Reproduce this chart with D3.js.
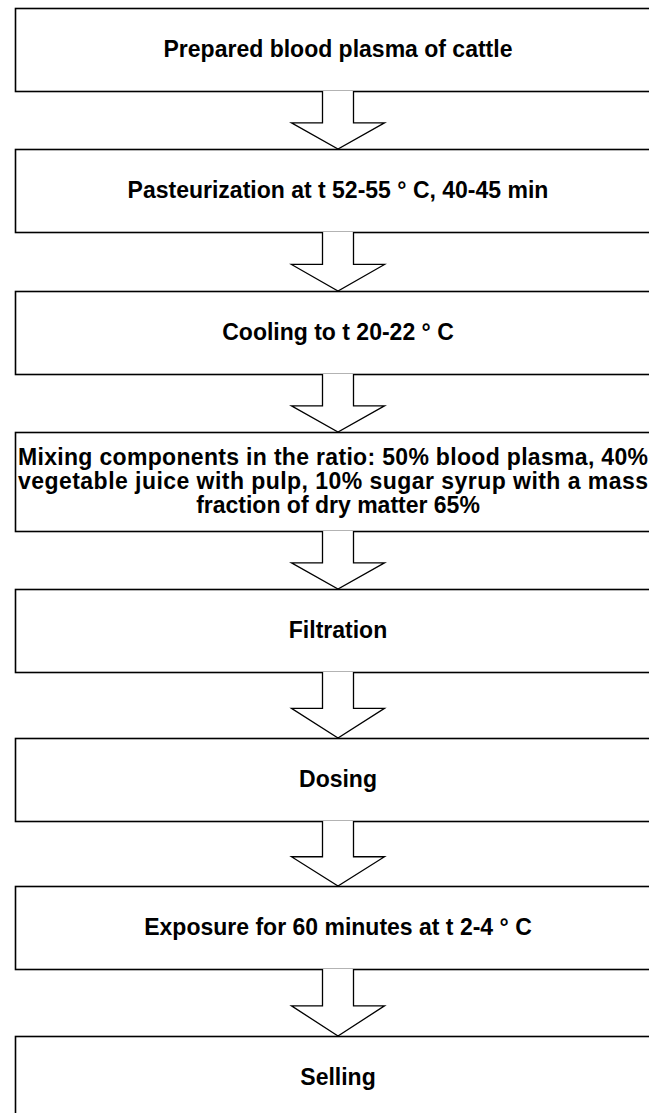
<!DOCTYPE html>
<html>
<head>
<meta charset="utf-8">
<script src="https://cdn.jsdelivr.net/npm/d3@7"></script>
<style>
  html, body { margin: 0; padding: 0; background: #fff; overflow: hidden; }
  .step-text { font-family: "Liberation Sans", Arial, sans-serif; font-weight: bold; fill: #000; }
</style>
</head>
<body>
<div id="container"></div>
<script>
// process steps (one entry per box, lines of text inside the box)
const steps = [
  ["Prepared blood plasma of cattle"],
  ["Pasteurization at t 52-55 ° C, 40-45 min"],
  ["Cooling to t 20-22 ° C"],
  ["Mixing components in the ratio: 50% blood plasma, 40%",
   "vegetable juice with pulp, 10% sugar syrup with a mass",
   "fraction of dry matter 65%"],
  ["Filtration"],
  ["Dosing"],
  ["Exposure for 60 minutes at t 2-4 ° C"],
  ["Selling"]
];

// layout
const W = 649, H = 1113;
const boxLeft = 15, boxRight = 661;   // the figure is cropped on the right
const lineH = 24;
const baseBox = 83;
const gaps = [58, 59, 58, 58, 66, 65, 67];
const fontSize = 23;

const svg = d3.select("#container").append("svg")
  .attr("width", W)
  .attr("height", H);

// work out the box positions from line counts and arrow gaps
const layout = [];
let y = 8;
steps.forEach((lines, i) => {
  const h = baseBox + (lines.length > 1 ? 16 : 0);
  layout.push({lines: lines, y0: y, y1: y + h});
  y += h + (gaps[i] || 0);
});

const x = d3.scaleLinear().domain([0, 1]).range([boxLeft, boxRight]);
const cx = 338;

const g = svg.append("g");

const boxes = g.selectAll(".step")
  .data(layout)
  .enter()
  .append("g")
  .attr("class", "step");

boxes.append("rect")
  .attr("x", x(0) + 0.5)
  .attr("y", d => d.y0 + 0.5)
  .attr("width", x(1) - x(0))
  .attr("height", d => d.y1 - d.y0)
  .attr("fill", "#fff")
  .attr("stroke", "#000")
  .attr("stroke-width", 1.6);

// text: single lines centred, wrapped lines justified (last one centred)
boxes.each(function(d) {
  const n = d.lines.length;
  const mid = (d.y0 + d.y1) / 2;
  d3.select(this).selectAll("text")
    .data(d.lines)
    .enter()
    .append("text")
    .attr("class", "step-text")
    .attr("x", (t, j) => (n > 1 && j < n - 1) ? x(0) + 3 : cx)
    .attr("y", (t, j) => mid + (j - (n - 1) / 2) * lineH)
    .attr("dy", "0.34em")
    .attr("text-anchor", (t, j) => (n > 1 && j < n - 1) ? "start" : "middle")
    .attr("textLength", (t, j) => (n > 1 && j < n - 1) ? 630 : null)
    .attr("lengthAdjust", "spacing")
    .attr("font-size", fontSize)
    .text(t => t);
});

// block arrows between boxes
const shaftHalf = 15.5, headHalf = 46.5;
const arrows = d3.pairs(layout).map(([a, b]) => ({from: a.y1, to: b.y0}));

g.selectAll(".arrow")
  .data(arrows)
  .enter()
  .append("path")
  .attr("class", "arrow")
  .attr("d", d => {
    const hs = d.from + (d.to - d.from) * 0.55;
    const p = d3.path();
    p.moveTo(cx - shaftHalf, d.from);
    p.lineTo(cx - shaftHalf, hs);
    p.lineTo(cx - headHalf, hs);
    p.lineTo(cx, d.to);
    p.lineTo(cx + headHalf, hs);
    p.lineTo(cx + shaftHalf, hs);
    p.lineTo(cx + shaftHalf, d.from);
    return p.toString();
  })
  .attr("fill", "#fff")
  .attr("stroke", "#000")
  .attr("stroke-width", 1.3);
</script>
</body>
</html>
